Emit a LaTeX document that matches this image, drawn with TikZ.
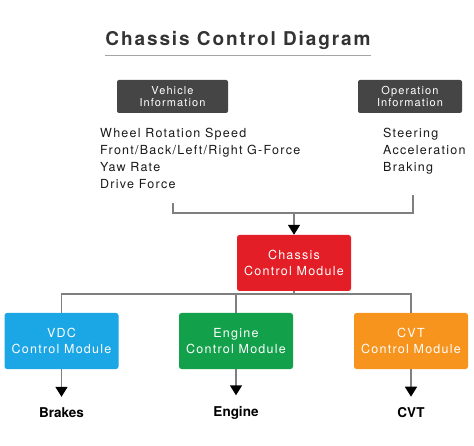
\documentclass[tikz,border=0pt]{standalone}
\usepackage{fontspec}
\setmainfont{TeX Gyre Heros}
\newfontfamily\spacedfont[LetterSpace=10]{TeX Gyre Heros}
\usetikzlibrary{positioning,arrows.meta}

\definecolor{infogray}{HTML}{454545}
\definecolor{chassisred}{HTML}{E31E26}
\definecolor{vdcblue}{HTML}{1BA6E6}
\definecolor{enginegreen}{HTML}{12A04B}
\definecolor{cvtorange}{HTML}{F7941E}
\definecolor{wiregray}{HTML}{7F7F7F}
\definecolor{titlegray}{HTML}{333333}

\begin{document}
\begin{tikzpicture}[
  x=1pt, y=-1pt,
  heading/.style={
    inner sep=0pt,
    text=titlegray,
    font=\spacedfont\bfseries\fontsize{19}{22}\selectfont
  },
  info/.style={
    fill=infogray,
    rounded corners=2pt,
    minimum height=33pt,
    inner sep=0pt,
    align=center,
    text=white,
    font=\spacedfont\fontsize{11}{12}\selectfont
  },
  module/.style={
    rounded corners=2.5pt,
    minimum width=114pt,
    minimum height=56pt,
    inner sep=0pt,
    align=center,
    text=white,
    font=\spacedfont\fontsize{12.5}{16}\selectfont
  },
  itemlist/.style={
    anchor=north west,
    inner sep=0pt,
    align=left,
    text=black!90,
    font=\spacedfont\fontsize{12.5}{17}\selectfont
  },
  output/.style={
    inner sep=0pt,
    font=\bfseries\fontsize{13.5}{16}\selectfont
  },
  wire/.style={
    draw=wiregray,
    line width=1.6pt
  },
  arrow/.style={
    wire,
    -{Triangle[length=10pt,width=12pt,color=black]}
  }
]
\useasboundingbox (0,0) rectangle (474,446);

% title
\node [heading] (title) at (238,40) {Chassis Control Diagram};
\draw [wiregray!70, line width=1pt] ([yshift=-6pt]title.south west) -- ([yshift=-6pt]title.south east);

% inputs
\node [info, minimum width=111pt] (vehicle) at (172.5,96.5) {Vehicle\\Information};
\node [info, minimum width=104pt] (operation) at (410,96.5) {Operation\\Information};
\node [itemlist] (vehiclelist) at (100,128) {Wheel Rotation Speed\\Front/Back/Left/Right G-Force\\Yaw Rate\\Drive Force};
\node [itemlist] (operationlist) at (383,128) {Steering\\Acceleration\\Braking};

% modules
\node [module, fill=chassisred] (chassis) at (294,263) {Chassis\\Control Module};
\node [module, fill=vdcblue] (vdc) at (61.5,341) {VDC\\Control Module};
\node [module, fill=enginegreen] (engine) at (236,341) {Engine\\Control Module};
\node [module, fill=cvtorange] (cvt) at (411,341) {CVT\\Control Module};

% outputs
\node [output] (brakes) at (61.5,413) {Brakes};
\node [output] (engineout) at (236,413) {Engine};
\node [output] (cvtout) at (411,413) {CVT};

% connectors
\coordinate (vehicletail) at (173,203);
\coordinate (operationtail) at (413,195);
\coordinate (merge) at (294,213);
\coordinate (split) at (294,294);
\draw [wire] (vehicletail) |- (merge) -| (operationtail);
\draw [arrow] (merge) -- (chassis.north);
\draw [wire] (chassis.south) -- (split);
\draw [wire] (vdc.north) |- (split) -| (cvt.north);
\draw [wire] (engine.north) -- (engine.north |- split);
\draw [arrow, shorten >=11pt] (vdc.south) -- (brakes.north);
\draw [arrow, shorten >=11pt] (engine.south) -- (engineout.north);
\draw [arrow, shorten >=11pt] (cvt.south) -- (cvtout.north);
\end{tikzpicture}
\end{document}
